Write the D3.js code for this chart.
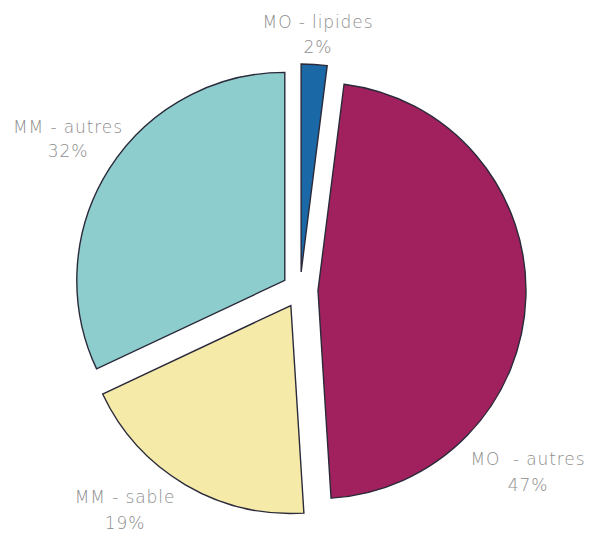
<!DOCTYPE html>
<html>
<head>
<meta charset="utf-8">
<script src="https://cdn.jsdelivr.net/npm/d3@7"></script>
<style>
  html, body { margin: 0; padding: 0; background: #fff; }
  svg { display: block; }
  text { white-space: pre; }
</style>
</head>
<body>
<svg id="chart" width="592" height="533"></svg>
<script>
// ---- data ----
const categories = ["MO - lipides", "MO  - autres", "MM - sable", "MM - autres"];
const values = [2, 47, 19, 32];
const valueLabels = ["2%", "47%", "19%", "32%"];
const colors = ["#1b68a6", "#a0215d", "#f6eaa8", "#8ecdcd"];

// ---- layout ----
const W = 592, H = 533;
const cx = 300, cy = 290, R = 208, explode = 18;
const labelPos = [ // [x, baseline line1, baseline line2]
  [318, 28, 53],
  [528, 465, 491],
  [125, 503, 529],
  [68, 133, 157]
];

const svg = d3.select("#chart");
const pie = d3.pie().sort(null).value(d => d)(values);
const arc = d3.arc().innerRadius(0).outerRadius(R);

const g = svg.append("g").attr("transform", `translate(${cx},${cy})`);

g.selectAll("path.slice")
  .data(pie)
  .join("path")
  .attr("class", "slice")
  .attr("d", arc)
  .attr("transform", d => {
    const a = (d.startAngle + d.endAngle) / 2;
    return `translate(${explode * Math.sin(a)},${-explode * Math.cos(a)})`;
  })
  .attr("fill", (d, i) => colors[i])
  .attr("stroke", "#2a2a3a")
  .attr("stroke-width", 1.4)
  .attr("stroke-linejoin", "miter");

const lbl = svg.append("g")
  .attr("font-family", "'DejaVu Sans', sans-serif")
  .attr("font-weight", 200)
  .attr("font-size", 17)
  .attr("letter-spacing", 0.9)
  .attr("fill", "#8c8c8c")
  .attr("text-anchor", "middle");

categories.forEach((c, i) => {
  const [x, y1, y2] = labelPos[i];
  lbl.append("text").attr("x", x).attr("y", y1).text(c);
  lbl.append("text").attr("x", x).attr("y", y2).text(valueLabels[i]);
});
</script>
</body>
</html>
